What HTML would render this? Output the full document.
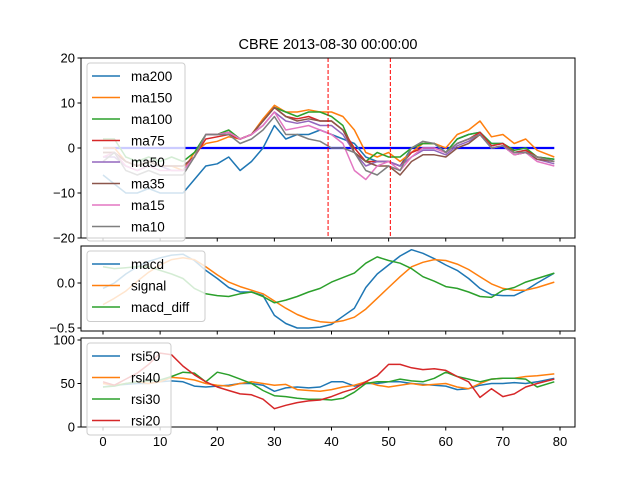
<!DOCTYPE html>
<html><head><meta charset="utf-8"><style>
body{margin:0;background:#fff}
svg{display:block;font-family:"Liberation Sans","DejaVu Sans",sans-serif}
</style></head><body>
<svg id="chart" width="640" height="480" viewBox="0 0 640 480" xmlns="http://www.w3.org/2000/svg">
<rect width="640" height="480" fill="#fff"/>
<text x="328" y="49" font-size="14.5" text-anchor="middle">CBRE 2013-08-30 00:00:00</text>
<g id="g"></g>
</svg>
<script>
const xs=[0,2,4,6,8,10,12,14,16,18,20,22,24,26,28,30,32,34,36,38,40,42,44,46,48,50,52,54,56,58,60,62,64,66,68,70,72,74,76,79];
const ma200=[-6,-8,-10,-10,-9,-10,-10,-10,-7,-4,-3.5,-2,-5,-3,0,5,2,3,3,4,3,2,1,-2,-3,-3,-4,0,1,1,-1,2,3,3.5,1,1,-1,-0.5,-2,-2.5];
const ma150=[0,0,-3,-4,-3,-4,-4,-5,-1,1,1.5,2.5,2,3,6.5,9.5,8,8,8.5,8,8,7,4,-1,-2,-1,-3,-1,1,1,0,3,4,6,2.5,3,1,2,-0.5,-2];
const ma100=[2,2,-2,-3,-2,-3,-2,-3,-1,3,3,4,2,3,6,9,8,7,8,8,7,5,-1,-3,-1,-2,-2,0,1,1,-1,2,3,3.5,1,1,-0.5,0,-2,-2.5];
const ma75=[-1,-1,-3,-4,-3,-4,-4,-4,-2,2,2.5,3,2,3,6,9,7,6.5,7,6,6,4,0,-3,-3,-3,-4,-1,0,0,-1,1,2,3.5,0.5,1,-1,-0.5,-2,-3];
const ma50=[-2,-2,-4,-5,-4,-4,-5,-5,-2,3,3,3.5,2,3,5,8,6,5.5,6,5,5,3,-1,-4,-3,-3,-4,-2,-0.5,-0.5,-1.5,0.5,1.5,3,0,0.5,-1.5,-1,-2.5,-3.5];
const ma35=[-1,-1,-3,-4,-3,-4,-4,-4,-2,3,3,3.5,2,3,6,9,7,6,6.5,6,6,4,-1,-3,-4,-4,-6,-3,-1.5,-1.5,-2,0,1,3,0,0.5,-1.5,-1,-2.5,-3];
const ma15=[-2,-1,-4,-5,-4,-5,-5,-5,-2,3,3,3.5,2,3,5,8,4,4.5,5,4,3,1,-5,-7,-4,-3,-5,-2,0,0,-1,1,2,3,0,0.5,-1.5,-1,-3,-4];
const ma10=[-3,-1,-5,-6,-5,-6,-6,-6,-2,3,3,3,1,2,4,7,3,3,2,1.5,0,0,-1,-5,-6,-4,-5,0,1.5,1,-1,1,2,3,0,0.5,-1,-1,-2,-3];
const topNames=["ma200","ma150","ma100","ma75","ma50","ma35","ma15","ma10"];
const topSeries=[ma200,ma150,ma100,ma75,ma50,ma35,ma15,ma10];
const vlines=[39.4,50.3];
const macd=[-0.06,0.0,0.1,0.18,0.24,0.28,0.31,0.32,0.25,0.14,0.05,-0.05,-0.1,-0.1,-0.14,-0.36,-0.45,-0.5,-0.5,-0.49,-0.46,-0.37,-0.28,-0.05,0.1,0.2,0.3,0.37,0.33,0.27,0.2,0.14,0.05,-0.06,-0.13,-0.14,-0.14,-0.08,0.0,0.11];
const signal=[-0.24,-0.17,-0.09,0.02,0.12,0.2,0.26,0.28,0.26,0.18,0.09,0.01,-0.04,-0.08,-0.12,-0.2,-0.28,-0.35,-0.4,-0.43,-0.44,-0.42,-0.38,-0.29,-0.17,-0.05,0.07,0.18,0.23,0.26,0.25,0.21,0.15,0.07,-0.01,-0.06,-0.08,-0.08,-0.05,0.01];
const macdDiff=[0.18,0.16,0.17,0.18,0.18,0.14,0.1,0.05,-0.06,-0.12,-0.14,-0.15,-0.12,-0.1,-0.15,-0.22,-0.19,-0.15,-0.1,-0.06,0.01,0.06,0.11,0.22,0.29,0.25,0.22,0.16,0.07,0.02,-0.04,-0.06,-0.1,-0.15,-0.16,-0.08,-0.05,0.01,0.05,0.11];
const rsi50=[46,48,49,50,50,52,53,52,47,46,47,48,50,50,48,41,45,46,45,46,52,52,47,50,50,52,52,50,49,48,47,43,44,48,50,50,51,50,52,56];
const rsi40=[50,48,50,52,50,52,57,56,54,50,48,47,50,52,50,48,49,43,42,41,43,46,48,52,48,46,48,50,48,49,50,46,44,50,55,56,56,58,59,61];
const rsi30=[46,47,50,52,53,54,58,63,62,52,63,60,55,50,42,36,35,33,32,32,31,33,40,50,52,52,55,53,52,56,63,58,55,52,55,56,56,55,46,52];
const rsi20=[52,48,55,62,72,85,83,70,60,52,46,42,38,37,32,21,25,28,30,31,35,40,44,52,59,72,72,68,66,67,65,58,52,34,44,35,38,46,50,55];
const midNames=["macd","signal","macd_diff"], midSeries=[macd,signal,macdDiff];
const botNames=["rsi50","rsi40","rsi30","rsi20"], botSeries=[rsi50,rsi40,rsi30,rsi20];
const xTicks=[0,10,20,30,40,50,60,70,80];
const topTicks=[20,10,0,-10,-20], midTicks=[0.0,-0.5], midLabels=["0.0","\u22120.5"], botTicks=[100,50,0];
const colors=["#1f77b4","#ff7f0e","#2ca02c","#d62728","#9467bd","#8c564b","#e377c2","#7f7f7f"];

const NS="http://www.w3.org/2000/svg", G=document.getElementById('g');
function el(t,a,p){const e=document.createElementNS(NS,t);for(const k in a)e.setAttribute(k,a[k]);(p||G).appendChild(e);return e;}
const L=81,R=575;
const xS=v=>103+(v)*(457/80);
const panels=[
 {top:58,bot:238,y:v=>148-v*4.5,ticks:topTicks,labels:topTicks.map(t=>String(t).replace('-','\u2212')),names:topNames,series:topSeries,key:'price'},
 {top:246,bot:331,y:v=>283-v*90,ticks:midTicks,labels:midLabels,names:midNames,series:midSeries,key:'macd'},
 {top:338,bot:427,y:v=>427-v*0.87,ticks:botTicks,labels:botTicks.map(String),names:botNames,series:botSeries,key:'rsi'}
];
panels.forEach((P,pi)=>{
  const pg=el('g',{});
  
  
  const cid='clip'+pi;
  const cp=el('clipPath',{id:cid},pg);el('rect',{x:L,y:P.top,width:R-L,height:P.bot-P.top},cp);
  const plot=el('g',{'clip-path':'url(#'+cid+')'},pg);
  if(pi===0){
    const z=el('line',{x1:xS(0),x2:xS(79),y1:P.y(0),y2:P.y(0),stroke:'#0000ff','stroke-width':2.2},plot);
    
    
  }
  P.series.forEach((s,si)=>{
    const p=el('polyline',{points:s.map((v,i)=>xS(xs[i]).toFixed(1)+','+P.y(v).toFixed(1)).join(' '),fill:'none',stroke:colors[si],'stroke-width':1.5,'stroke-linejoin':'round'},plot);
    
    
  });
  if(pi===0){
    vlines.forEach((v,k)=>{
      const l=el('line',{x1:xS(v),x2:xS(v),y1:P.top,y2:P.bot,stroke:'#ff0000','stroke-width':1,'stroke-dasharray':'4,2'},plot);
      
      
    });
  }
  const fr=el('rect',{x:L,y:P.top,width:R-L,height:P.bot-P.top,fill:'none',stroke:'#000','stroke-width':1},pg);
  
  
  P.ticks.forEach((t,k)=>{
    const yy=P.y(t);
    el('line',{x1:L-3.5,x2:L,y1:yy,y2:yy,stroke:'#000'},pg);
    const tx=el('text',{x:L-6,y:yy+4.5,'font-size':13,'text-anchor':'end'},pg);tx.textContent=P.labels[k];
    
    
  });
  xTicks.forEach(t=>{el('line',{x1:xS(t),x2:xS(t),y1:P.bot,y2:P.bot+3.5,stroke:'#000'},pg);});
  const n=P.names.length, lh=21.5, lw=[98,118,84][pi];
  const lg=el('g',{},pg);
  
  
  const ly=P.top+5;
  el('rect',{x:87,y:ly,width:lw,height:n*lh+6,rx:3,fill:'#fff','fill-opacity':0.8,stroke:'#ccc'},lg);
  P.names.forEach((nm,k)=>{
    const cy=ly+13+k*lh;
    el('line',{x1:92,x2:120,y1:cy,y2:cy,stroke:colors[k],'stroke-width':1.5},lg);
    const tt=el('text',{x:131,y:cy+5,'font-size':13.5},lg);tt.textContent=nm;
    
    
  });
});
xTicks.forEach(t=>{
  const tx=el('text',{x:xS(t),y:446,'font-size':13,'text-anchor':'middle'});tx.textContent=t;
  
  
});
</script>
</body></html>
